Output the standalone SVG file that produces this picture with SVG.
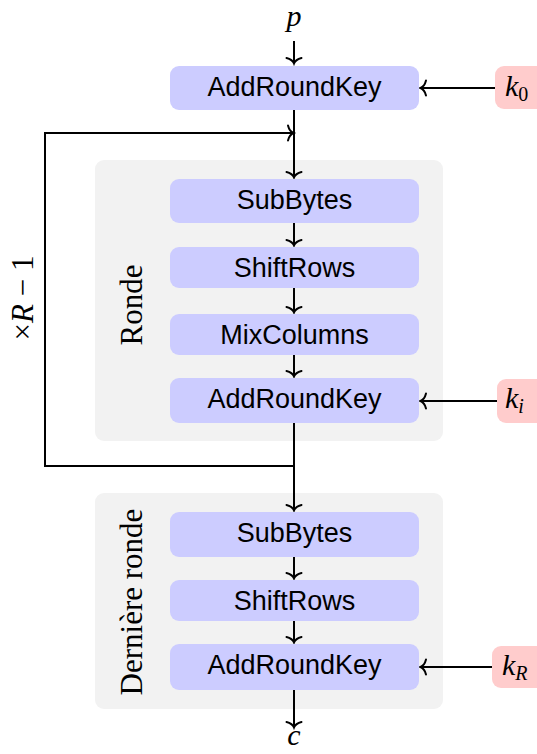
<svg xmlns="http://www.w3.org/2000/svg" width="537" height="754" viewBox="0 0 537 754">
<style>
.op{fill:#ccccff;}
.key{fill:#ffcccc;}
.grp{fill:#f2f2f2;}
.lbl{font-family:"Liberation Sans",Arial,sans-serif;font-size:27px;fill:#000;text-anchor:middle;}
.ser{font-family:"Liberation Serif","Times New Roman",serif;font-size:31px;fill:#000;text-anchor:middle;}
.math{font-family:"Liberation Serif","Times New Roman",serif;font-style:italic;font-size:30px;fill:#000;}
.sub{font-size:20px;font-style:normal;}
.subi{font-size:20px;font-style:italic;}
.c{fill:none;stroke:#000;stroke-width:2;}
</style>
<defs>
<marker id="ah" markerUnits="userSpaceOnUse" orient="auto" refX="0" refY="0" markerWidth="20" markerHeight="20" viewBox="-10 -10 20 20" overflow="visible">
<path d="M-5,-7.5 C-4,-3.5 -1.5,-0.8 0.5,0 C-1.5,0.8 -4,3.5 -5,7.5" fill="none" stroke="#000" stroke-width="2" stroke-linecap="round"/>
</marker>
</defs>

<g id="ronde-bg"><rect class="grp" x="95" y="160" width="348" height="281" rx="9"/>
<text class="ser" transform="translate(142,305) rotate(-90)">Ronde</text></g>
<g id="derniere-bg"><rect class="grp" x="95" y="493" width="348" height="216" rx="9"/>
<text class="ser" transform="translate(142,602) rotate(-90)">Dernière ronde</text></g>

<g id="connectors">
<line class="c" x1="294" y1="41" x2="294" y2="63" marker-end="url(#ah)"/>
<line class="c" x1="294" y1="110" x2="294" y2="177" marker-end="url(#ah)"/>
<path class="c" d="M294,466 H45 V133 H293" marker-end="url(#ah)"/>
<line class="c" x1="294" y1="223" x2="294" y2="245" marker-end="url(#ah)"/>
<line class="c" x1="294" y1="288" x2="294" y2="312" marker-end="url(#ah)"/>
<line class="c" x1="294" y1="355" x2="294" y2="376" marker-end="url(#ah)"/>
<line class="c" x1="294" y1="423" x2="294" y2="510" marker-end="url(#ah)"/>
<line class="c" x1="294" y1="557" x2="294" y2="578" marker-end="url(#ah)"/>
<line class="c" x1="294" y1="621" x2="294" y2="642" marker-end="url(#ah)"/>
<line class="c" x1="294" y1="690" x2="294" y2="727" marker-end="url(#ah)"/>
<line class="c" x1="495" y1="88" x2="421" y2="88" marker-end="url(#ah)"/>
<line class="c" x1="497" y1="401" x2="421" y2="401" marker-end="url(#ah)"/>
<line class="c" x1="492" y1="667" x2="421" y2="667" marker-end="url(#ah)"/>
</g>

<g id="p"><text class="math" x="294" y="26" text-anchor="middle">p</text></g>
<g id="ark0"><rect class="op" x="170" y="66" width="249" height="44" rx="9"/><text class="lbl" x="294.5" y="96">AddRoundKey</text></g>
<g id="k0"><rect class="key" x="495" y="66" width="60" height="43" rx="9"/><text class="math" x="505" y="96">k<tspan class="sub" dy="5">0</tspan></text></g>

<g id="subbytes1"><rect class="op" x="170" y="179" width="249" height="44" rx="9"/><text class="lbl" x="294.5" y="209">SubBytes</text></g>
<g id="shiftrows1"><rect class="op" x="170" y="247" width="249" height="41" rx="9"/><text class="lbl" x="294.5" y="277">ShiftRows</text></g>
<g id="mixcolumns"><rect class="op" x="170" y="314" width="249" height="41" rx="9"/><text class="lbl" x="294.5" y="344">MixColumns</text></g>
<g id="ark1"><rect class="op" x="170" y="378" width="249" height="45" rx="9"/><text class="lbl" x="294.5" y="408">AddRoundKey</text></g>
<g id="ki"><rect class="key" x="497" y="379" width="60" height="44" rx="9"/><text class="math" x="505" y="408">k<tspan class="subi" dy="5">i</tspan></text></g>

<g id="loop-label"><text class="ser" transform="translate(33,298) rotate(-90)">×<tspan font-style="italic">R</tspan> − 1</text></g>

<g id="subbytes2"><rect class="op" x="170" y="512" width="249" height="45" rx="9"/><text class="lbl" x="294.5" y="542">SubBytes</text></g>
<g id="shiftrows2"><rect class="op" x="170" y="580" width="249" height="41" rx="9"/><text class="lbl" x="294.5" y="610">ShiftRows</text></g>
<g id="ark2"><rect class="op" x="170" y="644" width="249" height="46" rx="9"/><text class="lbl" x="294.5" y="674">AddRoundKey</text></g>
<g id="kR"><rect class="key" x="492" y="646" width="60" height="42" rx="9"/><text class="math" x="502" y="675">k<tspan class="subi" dy="5">R</tspan></text></g>

<g id="c"><text class="math" x="294" y="745" text-anchor="middle">c</text></g>
</svg>
